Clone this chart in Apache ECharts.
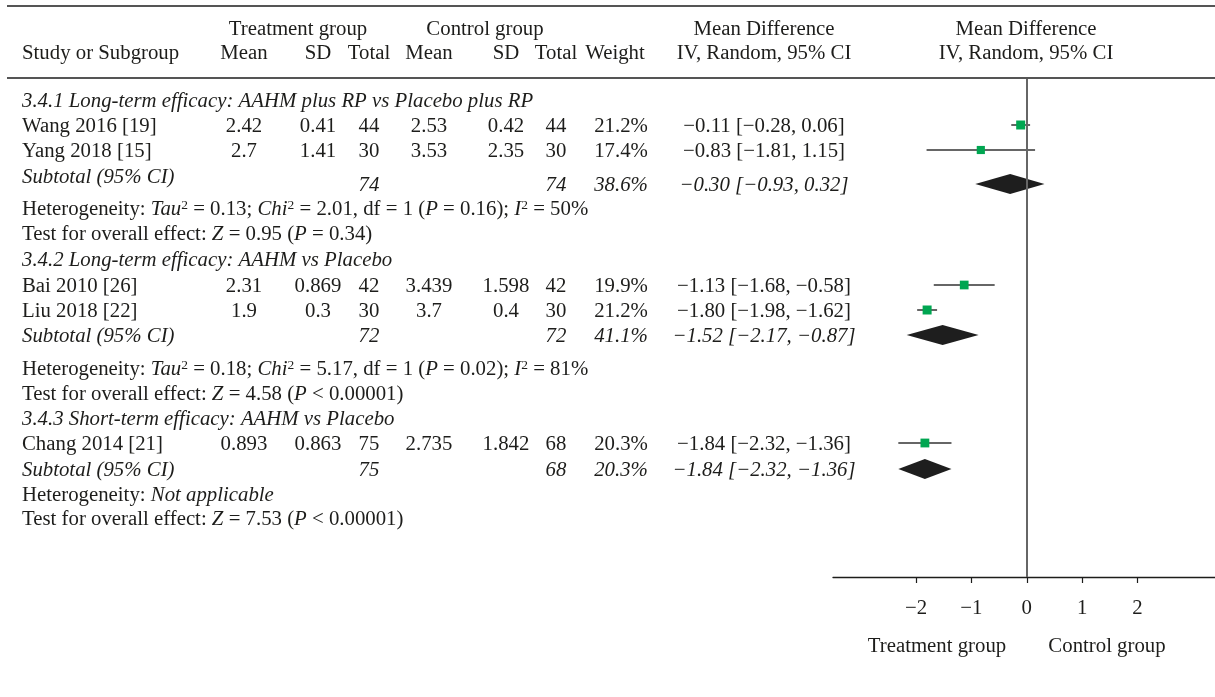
<!DOCTYPE html>
<html><head><meta charset="utf-8">
<script src="https://cdn.jsdelivr.net/npm/echarts@6/dist/echarts.min.js"></script>
<style>html,body{margin:0;padding:0;background:#fff}#c{width:1215px;height:697px}</style>
</head><body><div id="c"></div>
<script>
// ---------------- data ----------------
const groupTitles = [
  '3.4.1 Long-term efficacy: AAHM plus RP vs Placebo plus RP',
  '3.4.2 Long-term efficacy: AAHM vs Placebo',
  '3.4.3 Short-term efficacy: AAHM vs Placebo'
];
const studies   = ['Wang 2016 [19]', 'Yang 2018 [15]', 'Bai 2010 [26]', 'Liu 2018 [22]', 'Chang 2014 [21]'];
const studyGroup = [0, 0, 1, 1, 2];
const tMean = [2.42, 2.7, 2.31, 1.9, 0.893];
const tSD   = [0.41, 1.41, 0.869, 0.3, 0.863];
const tN    = [44, 30, 42, 30, 75];
const cMean = [2.53, 3.53, 3.439, 3.7, 2.735];
const cSD   = [0.42, 2.35, 1.598, 0.4, 1.842];
const cN    = [44, 30, 42, 30, 68];
const weight = [21.2, 17.4, 19.9, 21.2, 20.3];
const md     = [-0.11, -0.83, -1.13, -1.80, -1.84];
const ciLow  = [-0.28, -1.81, -1.68, -1.98, -2.32];
const ciHigh = [0.06, 0.15, -0.58, -1.62, -1.36];      // as drawn in the plot
const ciHighPrinted = [0.06, 1.15, -0.58, -1.62, -1.36]; // as printed in the table

const subTN = [74, 72, 75];
const subCN = [74, 72, 68];
const subWeight = [38.6, 41.1, 20.3];
const subMD  = [-0.30, -1.52, -1.84];
const subLow = [-0.93, -2.17, -2.32];
const subHigh = [0.32, -0.87, -1.36];

const hetText = [
  'Heterogeneity: {i|Tau}{s|2} = 0.13; {i|Chi}{s|2} = 2.01, df = 1 ({i|P} = 0.16); {i|I}{s|2} = 50%',
  'Heterogeneity: {i|Tau}{s|2} = 0.18; {i|Chi}{s|2} = 5.17, df = 1 ({i|P} = 0.02); {i|I}{s|2} = 81%',
  'Heterogeneity: {i|Not applicable}'
];
const overallText = [
  'Test for overall effect: {i|Z} = 0.95 ({i|P} = 0.34)',
  'Test for overall effect: {i|Z} = 4.58 ({i|P} < 0.00001)',
  'Test for overall effect: {i|Z} = 7.53 ({i|P} < 0.00001)'
];
const xTicks = [-2, -1, 0, 1, 2];
const favLeft = 'Treatment group', favRight = 'Control group';

// ---------------- layout ----------------
const FONT = '"Liberation Serif", "Times New Roman", serif';
const FS = 20.8;
const INK = '#1d1d1b';
const DY = 1.5; // text baseline nudge
const COL = {label: 22, tMean: 244, tSD: 318, tN: 369, cMean: 429, cSD: 506, cN: 556, weight: 621, md: 764, plotHead: 1026};
const GROUP_ROWS = [
  {title: 100, studies: [125, 150], subLabel: 176, sub: 184, het: 208, test: 233},
  {title: 259, studies: [285, 310], subLabel: 335, sub: 335, het: 368, test: 393},
  {title: 418, studies: [443], subLabel: 469, sub: 469, het: 494, test: 518}
];
const PLOT = {top: 79, bottom: 577, left: 833};

const minus = v => (v < 0 ? '\u2212' + Math.abs(v).toFixed(2) : v.toFixed(2));
const ciStr = (m, l, h) => minus(m) + ' [' + minus(l) + ', ' + minus(h) + ']';

const richStyles = {
  i: {fontFamily: FONT, fontSize: FS, fontStyle: 'italic', fill: INK},
  s: {fontFamily: FONT, fontSize: 13.5, fill: INK, padding: [0, 0, 9, 0]}
};
function txt(x, y, text, align, italic) {
  return {
    type: 'text', x: x, y: y + DY, silent: true,
    style: {
      text: text, fontFamily: FONT, fontSize: FS, fontStyle: italic ? 'italic' : 'normal',
      fill: INK, align: align || 'left', verticalAlign: 'middle', rich: richStyles
    }
  };
}
function hline(y) {
  return {type: 'line', silent: true, shape: {x1: 7, y1: y, x2: 1215, y2: y}, style: {stroke: '#555', lineWidth: 2}};
}

const studyY = [];
const seen = [0, 0, 0];
studies.forEach((s, i) => { const g = studyGroup[i]; studyY.push(GROUP_ROWS[g].studies[seen[g]++]); });

const graphics = [hline(6), hline(78)];
// headers
graphics.push(txt(298, 28, 'Treatment group', 'center'));
graphics.push(txt(485, 28, 'Control group', 'center'));
graphics.push(txt(COL.md, 28, 'Mean Difference', 'center'));
graphics.push(txt(COL.plotHead, 28, 'Mean Difference', 'center'));
graphics.push(txt(COL.label, 52, 'Study or Subgroup', 'left'));
graphics.push(txt(COL.tMean, 52, 'Mean', 'center'));
graphics.push(txt(COL.tSD, 52, 'SD', 'center'));
graphics.push(txt(COL.tN, 52, 'Total', 'center'));
graphics.push(txt(COL.cMean, 52, 'Mean', 'center'));
graphics.push(txt(COL.cSD, 52, 'SD', 'center'));
graphics.push(txt(COL.cN, 52, 'Total', 'center'));
graphics.push(txt(615, 52, 'Weight', 'center'));
graphics.push(txt(COL.md, 52, 'IV, Random, 95% CI', 'center'));
graphics.push(txt(COL.plotHead, 52, 'IV, Random, 95% CI', 'center'));

GROUP_ROWS.forEach((r, g) => {
  graphics.push(txt(COL.label, r.title, groupTitles[g], 'left', true));
  graphics.push(txt(COL.label, r.subLabel, 'Subtotal (95% CI)', 'left', true));
  graphics.push(txt(COL.tN, r.sub, String(subTN[g]), 'center', true));
  graphics.push(txt(COL.cN, r.sub, String(subCN[g]), 'center', true));
  graphics.push(txt(COL.weight, r.sub, subWeight[g].toFixed(1) + '%', 'center', true));
  graphics.push(txt(COL.md, r.sub, ciStr(subMD[g], subLow[g], subHigh[g]), 'center', true));
  graphics.push(txt(COL.label, r.het, hetText[g], 'left'));
  graphics.push(txt(COL.label, r.test, overallText[g], 'left'));
});
studies.forEach((s, i) => {
  const y = studyY[i];
  graphics.push(txt(COL.label, y, s, 'left'));
  graphics.push(txt(COL.tMean, y, String(tMean[i]), 'center'));
  graphics.push(txt(COL.tSD, y, String(tSD[i]), 'center'));
  graphics.push(txt(COL.tN, y, String(tN[i]), 'center'));
  graphics.push(txt(COL.cMean, y, String(cMean[i]), 'center'));
  graphics.push(txt(COL.cSD, y, String(cSD[i]), 'center'));
  graphics.push(txt(COL.cN, y, String(cN[i]), 'center'));
  graphics.push(txt(COL.weight, y, weight[i].toFixed(1) + '%', 'center'));
  graphics.push(txt(COL.md, y, ciStr(md[i], ciLow[i], ciHighPrinted[i]), 'center'));
});
graphics.push(txt(937, 645, favLeft, 'center'));
graphics.push(txt(1107, 645, favRight, 'center'));

const studyData = studies.map((s, i) => [md[i], ciLow[i], ciHigh[i], studyY[i], weight[i]]);
const subData = GROUP_ROWS.map((r, g) => [subMD[g], subLow[g], subHigh[g], r.sub]);

const chart = echarts.init(document.getElementById('c'), null, {renderer: 'canvas'});
chart.setOption({
  backgroundColor: '#fff',
  animation: false,
  grid: {left: PLOT.left, right: 0, top: PLOT.top, bottom: 697 - PLOT.bottom},
  xAxis: {
    type: 'value', min: -3.5, max: 3.4, position: 'bottom',
    axisLine: {onZero: false, lineStyle: {color: '#1d1d1b', width: 1.3}},
    axisTick: {show: true, customValues: xTicks, length: 6, lineStyle: {color: '#1d1d1b', width: 1.2}},
    axisLabel: {customValues: xTicks, margin: 21, fontFamily: FONT, fontSize: FS, color: INK,
      formatter: v => (v < 0 ? '\u2212' + Math.abs(v) : String(v))},
    splitLine: {show: false}
  },
  yAxis: {type: 'value', inverse: true, min: PLOT.top, max: PLOT.bottom, show: false},
  series: [
    {
      type: 'custom', name: 'studies', data: studyData, encode: {x: [0, 1, 2], y: 3}, clip: false, z: 3,
      renderItem: function (params, api) {
        const y = api.value(3);
        const a = api.coord([api.value(1), y]);
        const b = api.coord([api.value(2), y]);
        const c = api.coord([api.value(0), y]);
        const sz = 9 * Math.sqrt(api.value(4) / 21.2);
        return {type: 'group', children: [
          {type: 'line', shape: {x1: a[0], y1: a[1], x2: b[0], y2: b[1]}, style: {stroke: '#333', lineWidth: 1.5}},
          {type: 'rect', shape: {x: c[0] - sz / 2, y: c[1] - sz / 2, width: sz, height: sz}, style: {fill: '#00a651'}}
        ]};
      },
      markLine: {
        silent: true, symbol: 'none', label: {show: false},
        lineStyle: {color: '#666', width: 2, type: 'solid'},
        data: [{xAxis: 0}]
      }
    },
    {
      type: 'custom', name: 'subtotals', data: subData, encode: {x: [0, 1, 2], y: 3}, clip: false, z: 4,
      renderItem: function (params, api) {
        const y = api.value(3);
        const a = api.coord([api.value(1), y]);
        const b = api.coord([api.value(2), y]);
        const c = api.coord([api.value(0), y]);
        return {type: 'polygon', shape: {points: [[a[0], c[1]], [c[0], c[1] - 10], [b[0], c[1]], [c[0], c[1] + 10]]},
          style: {fill: '#1e1e1e'}};
      }
    }
  ],
  graphic: graphics
});
</script>
</body></html>
